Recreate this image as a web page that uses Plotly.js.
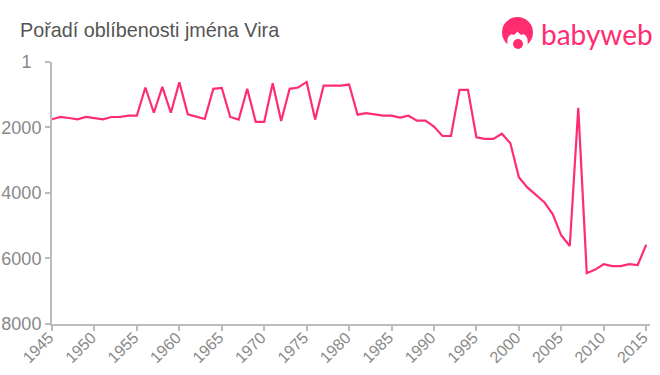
<!DOCTYPE html>
<html><head><meta charset="utf-8">
<script src="https://cdn.plot.ly/plotly-3.0.1.min.js"></script>
<style>html,body{margin:0;padding:0;background:#fff}#c{width:660px;height:375px}</style>
</head><body><div id="c"></div>
<script>
const chartTitle = "Pořadí oblíbenosti jména Vira";
const years = [1945,1946,1947,1948,1949,1950,1951,1952,1953,1954,1955,1956,1957,1958,1959,1960,1961,1962,1963,1964,1965,1966,1967,1968,1969,1970,1971,1972,1973,1974,1975,1976,1977,1978,1979,1980,1981,1982,1983,1984,1985,1986,1987,1988,1989,1990,1991,1992,1993,1994,1995,1996,1997,1998,1999,2000,2001,2002,2003,2004,2005,2006,2007,2008,2009,2010,2011,2012,2013,2014,2015];
const ranks = [1750,1680,1710,1750,1680,1710,1750,1680,1680,1640,1640,780,1550,760,1550,620,1600,1670,1740,820,790,1680,1760,820,1830,1830,650,1800,820,780,610,1760,720,720,720,690,1610,1560,1610,1640,1640,1700,1640,1790,1790,1970,2260,2260,850,850,2300,2350,2350,2190,2480,3520,3830,4050,4280,4650,5300,5620,1400,6450,6340,6170,6230,6230,6170,6200,5580];
const yTicks = [1,2000,4000,6000,8000];
const yLabels = ["1\u00A0\u00A0","2000","4000","6000","8000"];
const xTicks = [1945,1950,1955,1960,1965,1970,1975,1980,1985,1990,1995,2000,2005,2010,2015];
const W=660,H=375;
const L=52,T=62,PW=598,PH=262;
const px=x=>(x-L)/PW, py=y=>(T+PH-y)/PH;
const pink="#ff2d6f";
const logo=[
 {type:"circle",xref:"paper",yref:"paper",x0:px(502),x1:px(533),y0:py(48),y1:py(17),fillcolor:pink,line:{width:0}},
 {type:"path",xref:"paper",yref:"paper",path:`M ${px(507)} ${py(50)} L ${px(507.5)} ${py(39)} Q ${px(510)} ${py(32.5)} ${px(514)} ${py(35)} L ${px(517.5)} ${py(31.5)} L ${px(521)} ${py(35)} Q ${px(525)} ${py(32.5)} ${px(527.5)} ${py(39)} L ${px(528)} ${py(50)} Z`,fillcolor:"#fff",line:{width:0}},
 {type:"circle",xref:"paper",yref:"paper",x0:px(513),x1:px(523),y0:py(49),y1:py(39),fillcolor:pink,line:{width:0}}
];
Plotly.newPlot("c",[{
  x:years,y:ranks,type:"scatter",mode:"lines",
  line:{color:pink,width:2.2,shape:"linear"},hoverinfo:"x+y"
}],{
  width:W,height:H,
  margin:{l:L,r:W-L-PW,t:T,b:H-T-PH,pad:0},
  paper_bgcolor:"#fff",plot_bgcolor:"#fff",showlegend:false,
  font:{family:"Liberation Sans, Arial, sans-serif",color:"#888",size:18},
  title:{text:chartTitle,x:20/W,xanchor:"left",y:1-30/H,yanchor:"middle",font:{size:19.8,color:"#555"}},
  xaxis:{range:[1945,2015.45],tickmode:"array",tickvals:xTicks,ticktext:xTicks.map(String),tickangle:-45,
    showgrid:false,zeroline:false,showline:true,linecolor:"#bbb",linewidth:2,ticks:"outside",ticklen:5,tickwidth:2,tickcolor:"#bbb",
    ticklabelstandoff:-9,ticklabelshift:-3,tickfont:{size:16,color:"#888"}},
  yaxis:{range:[8000,1],tickmode:"array",tickvals:yTicks,ticktext:yLabels,
    showgrid:false,zeroline:false,showline:true,linecolor:"#bbb",linewidth:2,ticks:"outside",ticklen:5,tickwidth:2,tickcolor:"#bbb",
    tickfont:{size:18,color:"#888"}},
  shapes:logo,
  annotations:[{text:"babyweb",xref:"paper",yref:"paper",x:px(538.5),y:py(34),xanchor:"left",yanchor:"middle",showarrow:false,
    font:{family:"Lato, Inter, sans-serif",size:28,color:pink}}]
},{displayModeBar:false,staticPlot:true});
</script></body></html>
